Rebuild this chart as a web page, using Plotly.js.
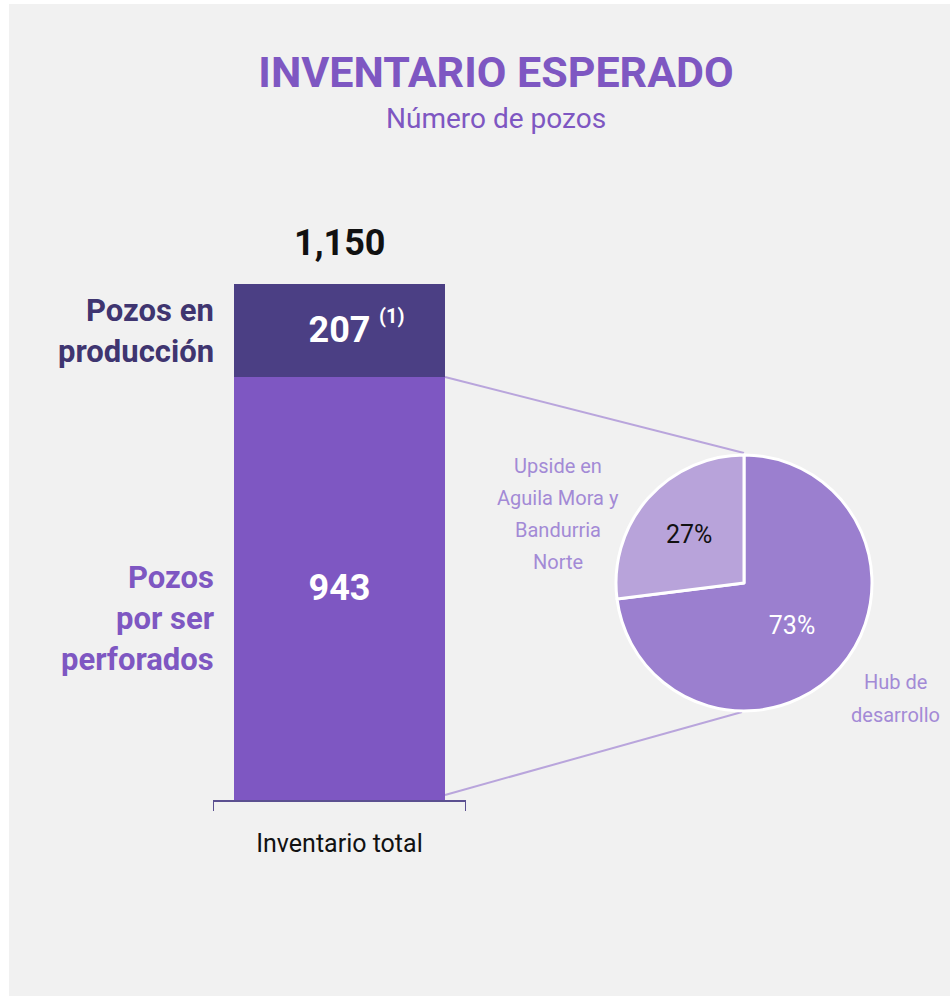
<!DOCTYPE html>
<html>
<head>
<meta charset="utf-8">
<script src="https://cdn.plot.ly/plotly-3.0.1.min.js"></script>
<style>html,body{margin:0;padding:0;background:#fff;}#chart{width:952px;height:998px;}</style>
</head>
<body>
<div id="chart"></div>
<script>
// ---- data ----
const barCategories = ['Inventario total'];
const porSerPerforados = [943];
const enProduccion = [207];
const totalInventario = [1150];
const pieLabels = ['Hub de desarrollo', 'Upside en Aguila Mora y Bandurria Norte'];
const pieValues = [73, 27];

const W = 952, H = 998;
const px = v => v / W;
const py = v => 1 - v / H;
const FONT = 'Roboto, "Open Sans", sans-serif';
const PURPLE = '#7e57c2';
const DARK = '#4b3f84';
const LABEL_DARK = '#3f3570';
const LIGHT = '#a38ad6';

const traces = [
  {
    type: 'bar', x: barCategories, y: porSerPerforados, width: 0.834,
    marker: {color: PURPLE}, text: porSerPerforados.map(String),
    textposition: 'inside', insidetextanchor: 'middle', textangle: 0,
    textfont: {family: FONT, size: 36, color: '#ffffff', weight: 'bold'},
    constraintext: 'none', hoverinfo: 'skip', cliponaxis: false
  },
  {
    type: 'bar', x: barCategories, y: enProduccion, width: 0.834,
    marker: {color: DARK}, text: enProduccion.map(String),
    textposition: 'inside', insidetextanchor: 'middle', textangle: 0,
    textfont: {family: FONT, size: 36, color: '#ffffff', weight: 'bold'},
    constraintext: 'none', hoverinfo: 'skip', cliponaxis: false
  },
  {
    type: 'pie', labels: pieLabels, values: pieValues, sort: false,
    direction: 'clockwise', rotation: 0,
    domain: {x: [px(616), px(872)], y: [py(711), py(455)]},
    marker: {colors: ['#9b7fcf', '#b8a3da'], line: {color: '#ffffff', width: 3}},
    textinfo: 'percent', texttemplate: '%{percent:.0%}', textposition: 'inside',
    insidetextorientation: 'horizontal',
    textfont: {family: FONT, size: 25, color: ['#ffffff', '#111111']},
    showlegend: false, hoverinfo: 'skip'
  }
];

const ann = [];
function addText(text, x, y, size, color, bold, anchor) {
  ann.push({text: text, xref: 'paper', yref: 'paper', x: px(x), y: py(y),
    xanchor: anchor || 'center', yanchor: 'middle', showarrow: false,
    font: {family: FONT, size: size, color: color, weight: bold ? 'bold' : 'normal'}});
}
addText('Número de pozos', 496, 119, 28, PURPLE, false);
addText('Pozos en', 216, 310, 31, LABEL_DARK, true, 'right');
addText('producción', 216, 351, 31, LABEL_DARK, true, 'right');
addText('Pozos', 216, 577, 31, PURPLE, true, 'right');
addText('por ser', 216, 618, 31, PURPLE, true, 'right');
addText('perforados', 216, 659, 31, PURPLE, true, 'right');
['Upside en', 'Aguila Mora y', 'Bandurria', 'Norte'].forEach((t, i) => addText(t, 558, 466 + i * 32, 20, LIGHT, false));
addText('Hub de', 895, 682, 20, LIGHT, false);
addText('desarrollo', 895, 715, 20, LIGHT, false);

ann.push({text: totalInventario[0].toLocaleString('en-US'), xref: 'x', yref: 'y',
  x: barCategories[0], y: totalInventario[0], yanchor: 'middle', yshift: 41,
  showarrow: false, font: {family: FONT, size: 36, color: '#111111', weight: 'bold'}});
ann.push({text: '(1)', xref: 'x', yref: 'y', x: barCategories[0],
  y: porSerPerforados[0] + enProduccion[0] / 2, xshift: 52, yshift: 14,
  showarrow: false, font: {family: FONT, size: 20, color: '#ffffff', weight: 'bold'}});

const shapes = [
  {type: 'rect', xref: 'paper', yref: 'paper', x0: px(9), x1: px(950), y0: py(996), y1: py(4),
    fillcolor: '#f1f1f1', line: {width: 0}, layer: 'below'},
  {type: 'line', xref: 'paper', yref: 'paper', x0: px(445), y0: py(377), x1: px(744), y1: py(453),
    line: {color: '#b9a5dc', width: 2}, layer: 'below'},
  {type: 'line', xref: 'paper', yref: 'paper', x0: px(445), y0: py(795), x1: px(742), y1: py(712),
    line: {color: '#b9a5dc', width: 2}, layer: 'below'},
  {type: 'line', xref: 'x', yref: 'paper', x0: -0.5, x1: -0.5, y0: py(800), y1: py(811),
    line: {color: '#5b5090', width: 2}},
  {type: 'line', xref: 'x', yref: 'paper', x0: 0.5, x1: 0.5, y0: py(800), y1: py(811),
    line: {color: '#5b5090', width: 2}}
];

const layout = {
  width: W, height: H, margin: {l: 0, r: 0, t: 0, b: 0},
  paper_bgcolor: '#ffffff', plot_bgcolor: 'rgba(0,0,0,0)',
  showlegend: false, barmode: 'stack', bargap: 0,
  title: {text: 'INVENTARIO ESPERADO', x: px(496), xanchor: 'center', y: py(72), yanchor: 'middle',
    font: {family: FONT, size: 43, color: PURPLE, weight: 'bold'}},
  xaxis: {domain: [px(213), px(466)], type: 'category', range: [-0.5, 0.5], fixedrange: true,
    showline: true, linecolor: '#5b5090', linewidth: 1.5, showgrid: false, zeroline: false,
    ticks: 'outside', ticklen: 20, tickcolor: 'rgba(0,0,0,0)',
    tickfont: {family: FONT, size: 25, color: '#111111'}},
  yaxis: {domain: [py(800), py(284)], range: [0, totalInventario[0]], visible: false, fixedrange: true},
  annotations: ann,
  shapes: shapes
};

Plotly.newPlot('chart', traces, layout, {staticPlot: true, displayModeBar: false});
</script>
</body>
</html>
